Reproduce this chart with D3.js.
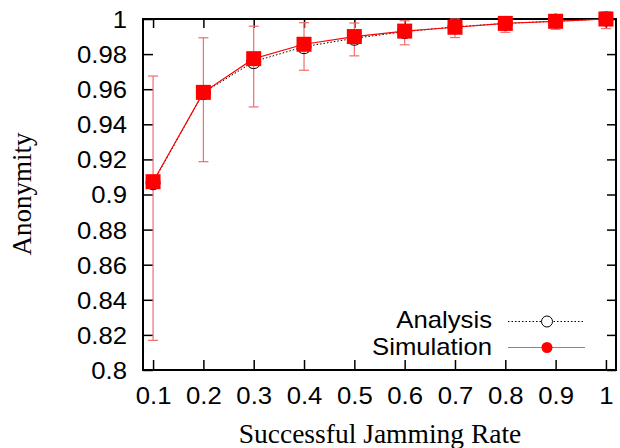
<!DOCTYPE html>
<html><head><meta charset="utf-8">
<script src="https://cdn.jsdelivr.net/npm/d3@7"></script>
<style>body{margin:0;background:#fff}svg{display:block}</style>
</head><body>
<svg id="c" width="620" height="448"></svg>
<script>
const rates = [0.1,0.2,0.3,0.4,0.5,0.6,0.7,0.8,0.9,1.0];
const analysis = [0.9067,0.958,0.9757,0.9842,0.989,0.9928,0.9955,0.9975,0.9988,1.0];
const simulation = [0.9073,0.9582,0.9774,0.9856,0.990,0.9931,0.9953,0.9975,0.9987,1.0];
const simLow = [0.8169,0.9187,0.9499,0.9708,0.979,0.9853,0.9894,0.9924,0.9941,0.9945];
const simHigh = [0.9675,0.9893,0.9959,0.9979,0.9977,0.9990,1.0,1.0,1.0025,1.004];
const xTicks = [0.1,0.2,0.3,0.4,0.5,0.6,0.7,0.8,0.9,1];
const yTicks = [0.8,0.82,0.84,0.86,0.88,0.9,0.92,0.94,0.96,0.98,1];
const legendLabels = ["Analysis","Simulation"];

const svg = d3.select("#c");
const L=143, R=616, T=19, B=370;
const x = d3.scaleLinear().domain([0.08,1.02]).range([L,R]);
const y = d3.scaleLinear().domain([0.8,1.0]).range([B,T]);
const sans = "'Liberation Sans', Arial, sans-serif";
const serif = "'Liberation Serif', 'Times New Roman', serif";
const FS = 24;
const STRETCH = 1.07;
function widen(sel){
  sel.each(function(){
    const w = this.getComputedTextLength();
    if (w > 0) d3.select(this).attr("textLength", w*STRETCH).attr("lengthAdjust","spacingAndGlyphs");
  });
}

// ticks (inward)
const axB = svg.append("g").attr("transform",`translate(0,${B})`)
  .call(d3.axisBottom(x).tickValues(xTicks).tickSize(-10).tickFormat(d3.format("")));
const axT = svg.append("g").attr("transform",`translate(0,${T})`)
  .call(d3.axisTop(x).tickValues(xTicks).tickSize(-9).tickFormat(""));
const axL = svg.append("g").attr("transform",`translate(${L},0)`)
  .call(d3.axisLeft(y).tickValues(yTicks).tickSize(-10).tickFormat(d3.format("")));
const axR = svg.append("g").attr("transform",`translate(${R},0)`)
  .call(d3.axisRight(y).tickValues(yTicks).tickSize(-9).tickFormat(""));
[axB,axT,axL,axR].forEach(a=>{
  a.select(".domain").remove();
  a.selectAll(".tick line").attr("stroke","#000").attr("stroke-width",1.5);
  a.selectAll("text").attr("font-family",sans).attr("font-size",FS).attr("fill","#000");
});
axL.selectAll("text").attr("x",-16).attr("dy","0.35em");
axB.selectAll("text").attr("y",34).attr("dy",0);
widen(axL.selectAll("text"));
widen(axB.selectAll("text"));

// frame
svg.append("rect").attr("x",L).attr("y",T).attr("width",R-L).attr("height",B-T)
  .attr("fill","none").attr("stroke","#000").attr("stroke-width",2);

const plot = svg.append("g");
const sim = rates.map((r,i)=>({r, v:simulation[i], lo:simLow[i], hi:simHigh[i]}));
const ana = rates.map((r,i)=>({r, v:analysis[i]}));

// error bars
const eb = plot.append("g").attr("stroke","#f26d6d").attr("stroke-width",1.2);
sim.forEach(d=>{
  eb.append("line").attr("x1",x(d.r)).attr("x2",x(d.r)).attr("y1",y(d.lo)).attr("y2",y(d.hi));
  eb.append("line").attr("x1",x(d.r)-5).attr("x2",x(d.r)+5).attr("y1",y(d.lo)).attr("y2",y(d.lo));
  eb.append("line").attr("x1",x(d.r)-5).attr("x2",x(d.r)+5).attr("y1",y(d.hi)).attr("y2",y(d.hi));
});

const line = d3.line().x(d=>x(d.r)).y(d=>y(d.v));
plot.append("path").datum(ana).attr("d",line).attr("fill","none")
  .attr("stroke","#000").attr("stroke-width",1).attr("stroke-dasharray","1.5,2");
plot.selectAll("circle.a").data(ana).join("circle").attr("class","a")
  .attr("cx",d=>x(d.r)).attr("cy",d=>y(d.v)).attr("r",7)
  .attr("fill","none").attr("stroke","#000").attr("stroke-width",1);

plot.append("path").datum(sim).attr("d",line).attr("fill","none")
  .attr("stroke","#f00").attr("stroke-width",1.2);
plot.selectAll("rect.s").data(sim).join("rect").attr("class","s")
  .attr("x",d=>x(d.r)-7.5).attr("y",d=>y(d.v)-7.5).attr("width",15).attr("height",15)
  .attr("fill","#f00");

// legend
const lg = svg.append("g");
const ly = [321.5, 347.5];
const lb = [327.5, 355];
legendLabels.forEach((t,i)=>{
  lg.append("text").attr("x",492).attr("y",lb[i]).attr("text-anchor","end")
    .attr("font-family",sans).attr("font-size",FS).attr("fill","#000").text(t);
});
widen(lg.selectAll("text"));
lg.append("line").attr("x1",508).attr("x2",585).attr("y1",ly[0]).attr("y2",ly[0])
  .attr("stroke","#000").attr("stroke-width",1).attr("stroke-dasharray","1.5,2");
lg.append("circle").attr("cx",547).attr("cy",ly[0]).attr("r",5.5).attr("fill","#fff").attr("stroke","#000").attr("stroke-width",1);
lg.append("line").attr("x1",508).attr("x2",585).attr("y1",ly[1]).attr("y2",ly[1])
  .attr("stroke","#f55").attr("stroke-width",1.2);
lg.append("circle").attr("cx",547).attr("cy",ly[1]).attr("r",5.5).attr("fill","#f00");

// axis titles
svg.append("text").attr("x",380).attr("y",443).attr("text-anchor","middle")
  .attr("font-family",serif).attr("font-size",27.5).attr("fill","#000").text("Successful Jamming Rate");
svg.append("text").attr("transform","translate(31,194) rotate(-90)").attr("text-anchor","middle")
  .attr("font-family",serif).attr("font-size",27).attr("fill","#000").text("Anonymity");
</script>
</body></html>
